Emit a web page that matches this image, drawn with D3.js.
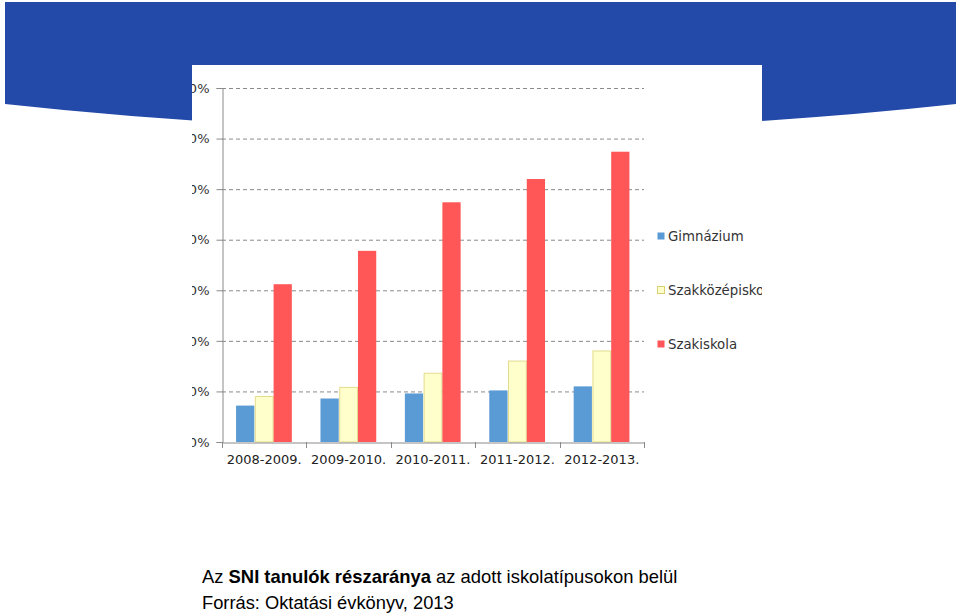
<!DOCTYPE html>
<html><head><meta charset="utf-8">
<script src="https://cdn.jsdelivr.net/npm/d3@7/dist/d3.min.js"></script>
<style>html,body{margin:0;padding:0;background:#fff;}svg{display:block;}</style>
</head><body>
<svg id="c" width="960" height="615"></svg>
<script>
const categories = ["2008-2009.", "2009-2010.", "2010-2011.", "2011-2012.", "2012-2013."];
const seriesNames = ["Gimnázium", "Szakközépiskola", "Szakiskola"];
const gimnazium = [3.6, 4.3, 4.8, 5.1, 5.5];
const szakkozep = [4.5, 5.4, 6.8, 8.0, 9.0];
const szakiskola = [15.6, 18.9, 23.7, 26.0, 28.7];
const yTicks = [0, 5, 10, 15, 20, 25, 30, 35];
const yTickLabels = ["0,0%", "5,0%", "10,0%", "15,0%", "20,0%", "25,0%", "30,0%", "35,0%"];
const seriesValues = [gimnazium, szakkozep, szakiskola];
const fills = ["#5b9bd5", "#ffffcc", "#ff5757"];
const strokes = ["none", "#e3dc8c", "none"];

(function () {
const svg = d3.select("#c");

// blue banner with curved bottom
svg.append("path")
  .attr("d", "M5,2 L956,2 L956,104 Q480,156 5,104 Z")
  .attr("fill", "#2349a9");

// pasted chart image area
const defs = svg.append("defs");
defs.append("clipPath").attr("id", "imgclip")
  .append("rect").attr("x", 192).attr("y", 65).attr("width", 570).attr("height", 420);
const img = svg.append("g").attr("clip-path", "url(#imgclip)");
img.append("rect").attr("x", 192).attr("y", 65).attr("width", 570).attr("height", 420).attr("fill", "#fff");

const pl = 222, pr = 644, pt = 88, pb = 442;
const y = d3.scaleLinear().domain([0, 35]).range([pb, pt]);
const x0 = d3.scaleBand().domain(categories).range([pl, pr]).paddingInner(1/3).paddingOuter(1/6);
const x1 = d3.scaleBand().domain(d3.range(seriesNames.length)).range([0, x0.bandwidth()]);
const xAxisBand = d3.scaleBand().domain(categories).range([pl, pr]);

// gridlines
img.append("g").selectAll("line").data(yTicks.slice(1)).join("line")
  .attr("x1", pl).attr("x2", pr)
  .attr("y1", d => y(d) + 0.5).attr("y2", d => y(d) + 0.5)
  .attr("stroke", "#8a8a8a").attr("stroke-width", 1).attr("stroke-dasharray", "4,3");

// bars
categories.forEach((c, ci) => {
  seriesValues.forEach((vals, si) => {
    img.append("rect")
      .attr("x", x0(c) + x1(si) + (si === 1 ? 0.5 : 0))
      .attr("y", y(vals[ci]))
      .attr("width", x1.bandwidth() - (si === 1 ? 1 : 0.5))
      .attr("height", pb - y(vals[ci]))
      .attr("fill", fills[si])
      .attr("stroke", strokes[si])
      .attr("stroke-width", 1);
  });
});

// y axis
const yAxis = d3.axisLeft(y).tickValues(yTicks).tickFormat((d, i) => yTickLabels[i]).tickSize(6).tickPadding(7);
const ya = img.append("g").attr("transform", `translate(${pl + 0.5},0)`).call(yAxis);
ya.select(".domain").attr("stroke", "#8a8a8a");
ya.selectAll(".tick line").attr("stroke", "#8a8a8a");
ya.selectAll("text").attr("font-family", "DejaVu Sans").attr("font-size", 13).attr("fill", "#333");

// x axis
const xAxis = d3.axisBottom(xAxisBand).tickSize(0).tickPadding(12);
const xa = img.append("g").attr("transform", `translate(0,${pb + 0.5})`).call(xAxis);
xa.select(".domain").attr("stroke", "#8a8a8a");
xa.selectAll("text").attr("font-family", "DejaVu Sans").attr("font-size", 13).attr("fill", "#222");
// category boundary ticks
img.append("g").selectAll("line").data(categories.concat(["_end"])).join("line")
  .attr("x1", (d, i) => Math.round(pl + i * xAxisBand.step()) + 0.5)
  .attr("x2", (d, i) => Math.round(pl + i * xAxisBand.step()) + 0.5)
  .attr("y1", pb).attr("y2", pb + 6)
  .attr("stroke", "#8a8a8a");

// legend
const lg = img.append("g");
const legendY = [236, 290, 344];
seriesNames.forEach((n, i) => {
  lg.append("rect").attr("x", 657.5).attr("y", legendY[i] - 3.5).attr("width", 7).attr("height", 7)
    .attr("fill", fills[i]).attr("stroke", i === 1 ? "#d8cf70" : "none");
  lg.append("text").attr("x", 668).attr("y", legendY[i] + 5)
    .attr("font-family", "DejaVu Sans").attr("font-size", 13.3).attr("fill", "#333").text(n);
});

// caption
const cap = svg.append("text").attr("x", 202).attr("y", 583)
  .attr("font-family", "Liberation Sans, Arial").attr("font-size", 18.4).attr("fill", "#000");
cap.append("tspan").text("Az ");
cap.append("tspan").attr("font-weight", "bold").text("SNI tanulók részaránya");
cap.append("tspan").text(" az adott iskolatípusokon belül");
svg.append("text").attr("x", 202).attr("y", 609)
  .attr("font-family", "Liberation Sans, Arial").attr("font-size", 18.3).attr("fill", "#000")
  .text("Forrás: Oktatási évkönyv, 2013");
})();
</script>
</body></html>
